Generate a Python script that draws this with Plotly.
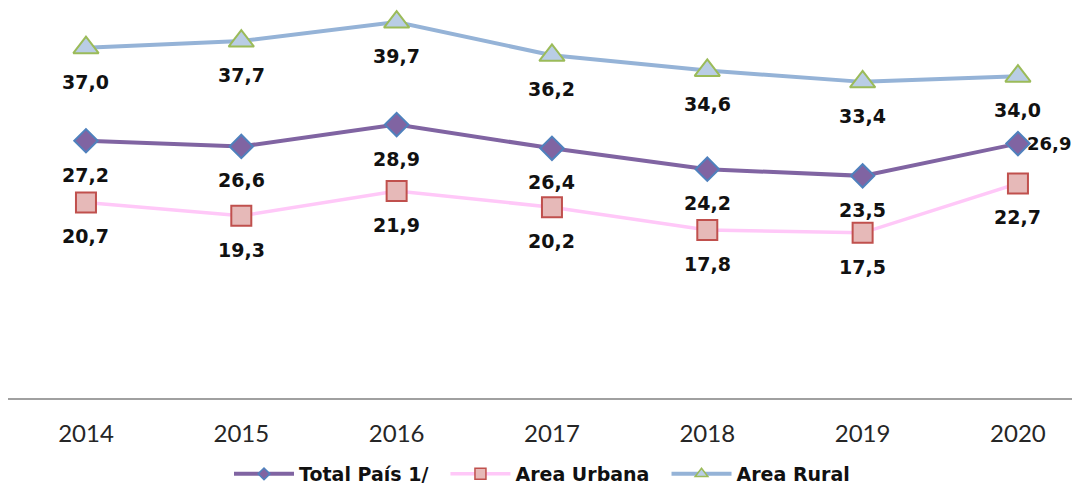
import plotly.graph_objects as go

years = ["2014", "2015", "2016", "2017", "2018", "2019", "2020"]
total = [27.2, 26.6, 28.9, 26.4, 24.2, 23.5, 26.9]
urbana = [20.7, 19.3, 21.9, 20.2, 17.8, 17.5, 22.7]
rural = [37.0, 37.7, 39.7, 36.2, 34.6, 33.4, 34.0]

names = ["Total País 1/", "Area Urbana", "Area Rural"]
xs = list(range(len(years)))

def fmt(v):
    return f"{v:.1f}".replace(".", ",")

styles = [
    dict(line=dict(color="#8064a2", width=4), sym="diamond", size=18,
         fill="#8064a2", edge="#4f81bd", lsize=9),
    dict(line=dict(color="#ffc8f8", width=3.5), sym="square", size=20,
         fill="#e6b9b8", edge="#c0504d", lsize=11),
    dict(line=dict(color="#95b3d7", width=4), sym="triangle-up", size=22,
         fill="#b9cde5", edge="#9bbb59", lsize=11),
]

fig = go.Figure()
for series, name, st in zip([total, urbana, rural], names, styles):
    fig.add_trace(go.Scatter(
        x=xs, y=series, name=name, mode="lines+markers", showlegend=False,
        line=st["line"],
        marker=dict(symbol=st["sym"], size=st["size"], color=st["fill"],
                    line=dict(color=st["edge"], width=2)),
    ))
# legend entries with small markers
for name, st in zip(names, styles):
    fig.add_trace(go.Scatter(
        x=[None], y=[None], name=f"<b>{name}</b>  ", mode="lines+markers",
        line=st["line"],
        marker=dict(symbol=st["sym"], size=st["lsize"], color=st["fill"],
                    line=dict(color=st["edge"], width=1.5)),
    ))

lab_font = dict(family="DejaVu Sans", size=19, color="#111111")
annotations = []
for si, series in enumerate([total, urbana, rural]):
    for i, v in enumerate(series):
        if si == 0 and i == len(series) - 1:
            annotations.append(dict(x=xs[i], y=v, text=f"<b>{fmt(v)}</b>",
                                    showarrow=False,
                                    font=dict(family="DejaVu Sans", size=18, color="#111111"),
                                    xanchor="left", xshift=7, yanchor="middle"))
        else:
            annotations.append(dict(x=xs[i], y=v, text=f"<b>{fmt(v)}</b>",
                                    showarrow=False, font=lab_font,
                                    yanchor="middle", yshift=-34))

fig.update_layout(
    width=1080, height=485,
    margin=dict(l=0, r=0, t=0, b=93),
    paper_bgcolor="white", plot_bgcolor="white",
    showlegend=True,
    legend=dict(orientation="h", x=0.5, xanchor="center", y=-0.191,
                yanchor="middle", itemwidth=60,
                font=dict(family="DejaVu Sans", size=19, color="#111111")),
    annotations=annotations,
    xaxis=dict(range=[-0.502, 6.451], tickvals=xs, ticktext=years,
               showgrid=False, zeroline=False, showline=False,
               ticks="outside", ticklen=13, tickcolor="rgba(0,0,0,0)",
               tickfont=dict(family="Lato", size=24, color="#262626"),
               automargin=False, fixedrange=True),
    yaxis=dict(range=[0, 41.18], showgrid=False, showticklabels=False,
               zeroline=True, zerolinecolor="#a0a0a0", zerolinewidth=1.5,
               showline=False, ticks="", automargin=False, fixedrange=True),
)

fig.write_html("out.html")
